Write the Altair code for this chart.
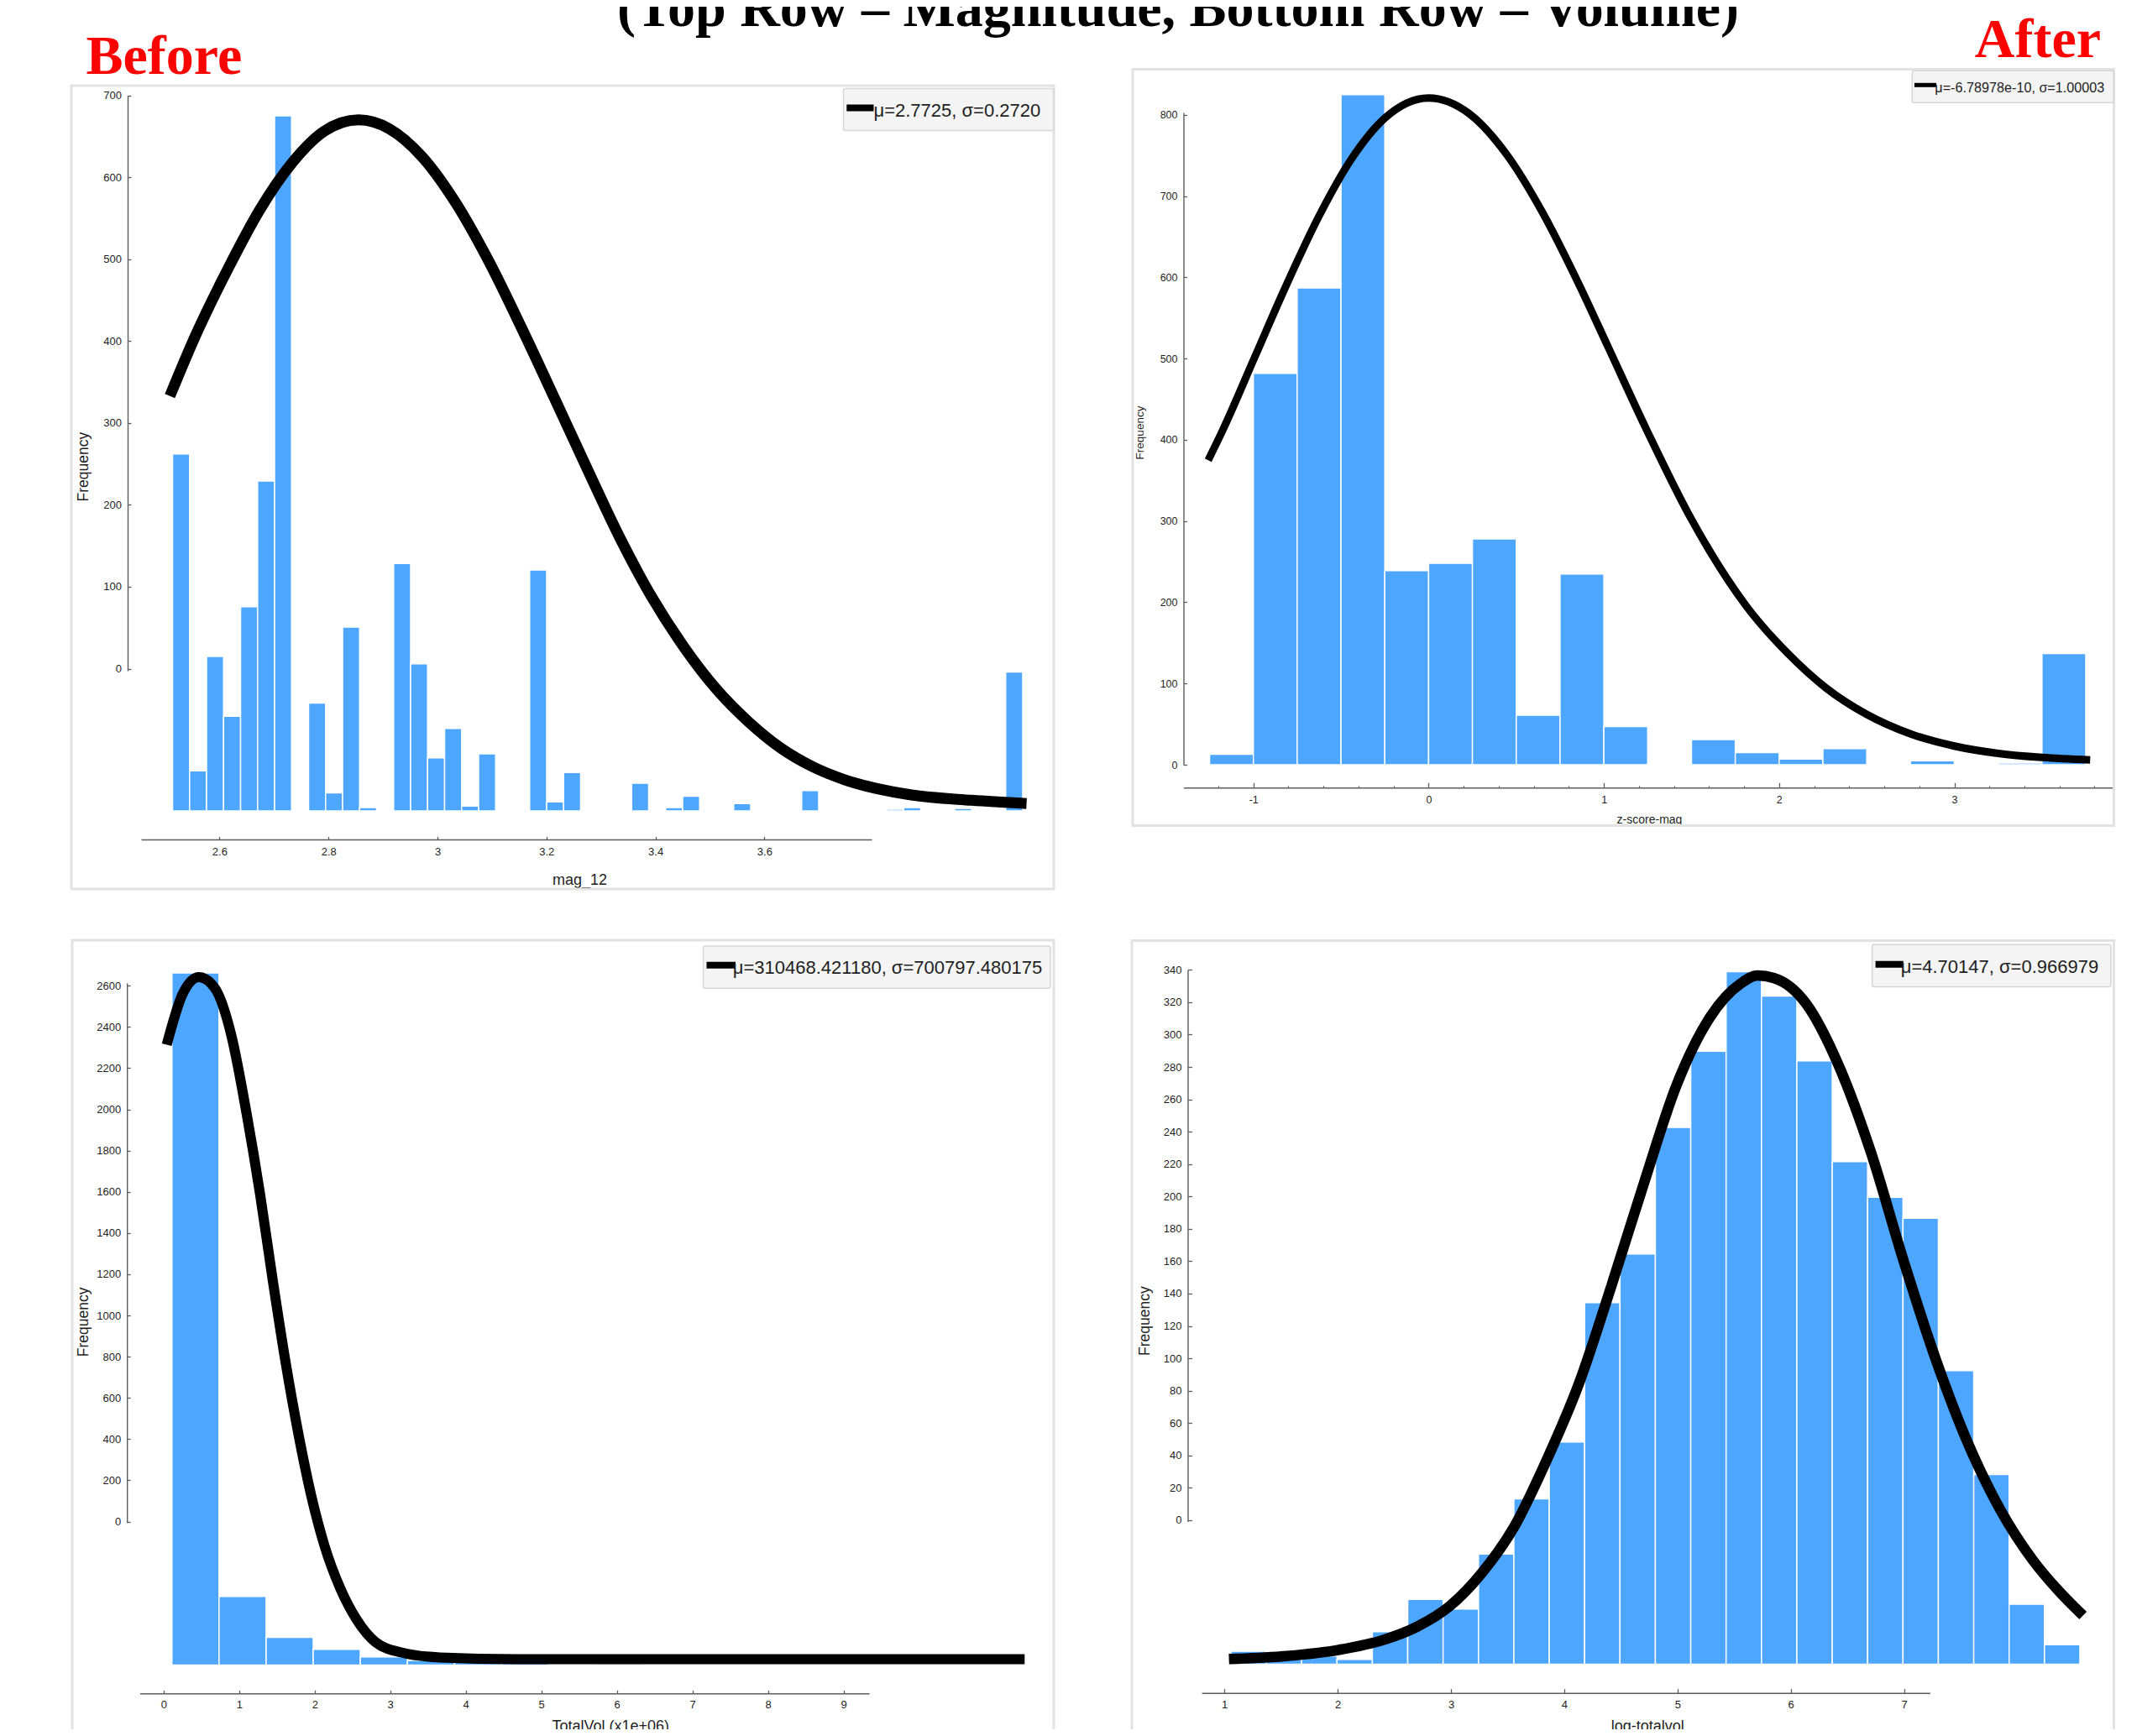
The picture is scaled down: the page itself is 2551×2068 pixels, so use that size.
import altair as alt
import pandas as pd

# ------------------------------------------------------------------
# Values
# ------------------------------------------------------------------
# Panel 1 - Before / magnitude (mag_12)
mag_bin_start = 2.5139
mag_bin_width = 0.0312
mag_counts = [437, 49, 189, 116, 250, 404, 851, 0, 132, 22,
              225, 4, 1, 303, 180, 65, 101, 6, 70, 0,
              0, 295, 11, 47, 0, 0, 1, 34, 0, 4,
              18, 0, 0, 9, 0, 0, 0, 25, 0, 0,
              0, 0, 2, 4, 0, 0, 3, 0, 0, 170]
mag_curve_x = [2.509, 2.556, 2.615, 2.674, 2.734, 2.792, 2.855, 2.912, 2.973, 3.034,
               3.095, 3.156, 3.217, 3.276, 3.335, 3.394, 3.453, 3.512, 3.571, 3.630,
               3.689, 3.748, 3.865, 3.980, 4.081]
mag_curve_y = [508, 582, 663, 736, 794, 832, 846, 835, 800, 744,
               672, 589, 502, 417, 334, 261, 200, 149, 109, 77,
               54, 38, 20, 13, 9]
mag_xticks = [2.6, 2.8, 3.0, 3.2, 3.4, 3.6]
mag_yticks = [0, 100, 200, 300, 400, 500, 600, 700]
mag_legend = "μ=2.7725, σ=0.2720"

# Panel 2 - After / magnitude z-score
z_bin_start = -1.25
z_bin_width = 0.25
z_counts = [13, 482, 587, 825, 239, 248, 278, 61, 235, 47,
            1, 31, 15, 7, 20, 0, 5, 0, 2, 137]
z_curve_x = [-1.258, -1.177, -0.992, -0.807, -0.622, -0.437, -0.251, 0.0, 0.23, 0.45,
             0.655, 0.859, 1.025, 1.247, 1.49, 1.814, 2.05, 2.265, 2.5, 2.75,
             3.0, 3.25, 3.5, 3.775]
z_curve_y = [375, 411, 502, 593, 677, 747, 796, 821, 802, 750,
             678, 591, 514, 411, 306, 195, 137, 95, 62, 38,
             23, 14, 9, 6]
z_xticks = [-1, 0, 1, 2, 3]
z_xminor = [-1.2, -0.8, -0.6, -0.4, -0.2, 0.2, 0.4, 0.6, 0.8, 1.2, 1.4, 1.6, 1.8,
            2.2, 2.4, 2.6, 2.8, 3.2, 3.4, 3.6, 3.8]
z_yticks = [0, 100, 200, 300, 400, 500, 600, 700, 800]
z_legend = "μ=-6.78978e-10, σ=1.00003"

# Panel 3 - Before / volume (TotalVol, x1e+06)
vol_bin_start = 0.1105
vol_bin_width = 0.6235
vol_counts = [3358, 333, 134, 76, 40, 22, 14, 11, 0, 7, 0, 0, 6, 0, 0, 0, 0, 0]
vol_curve_x = [0.042, 0.256, 0.468, 0.680, 0.894, 1.106, 1.276, 1.446, 1.616, 1.786,
               1.956, 2.126, 2.339, 2.552, 2.807, 3.148, 3.658, 4.678, 7.23, 11.398]
vol_curve_y = [3010, 3259, 3338, 3284, 3060, 2661, 2288, 1865, 1467, 1119,
               820, 584, 372, 223, 111, 61, 37, 29, 29, 29]
vol_xticks = [0, 1, 2, 3, 4, 5, 6, 7, 8, 9]
vol_yticks = [0, 200, 400, 600, 800, 1000, 1200, 1400, 1600, 1800, 2000, 2200, 2400, 2600]
vol_legend = "μ=310468.421180, σ=700797.480175"

# Panel 4 - After / log volume
lv_bin_start = 1.057
lv_bin_width = 0.3123
lv_counts = [8, 5, 5, 3, 20, 40, 34, 68, 102, 137,
             223, 253, 331, 378, 427, 412, 372, 310, 288, 275,
             181, 117, 37, 12]
lv_curve_x = [1.040, 1.555, 2.013, 2.414, 2.700, 2.987, 3.273, 3.559, 3.845, 4.131,
              4.417, 4.704, 4.990, 5.277, 5.563, 5.706, 5.849, 6.135, 6.422, 6.708,
              6.994, 7.280, 7.566, 7.852, 8.139, 8.368, 8.580]
lv_curve_y = [3.2, 5.1, 8.9, 15.2, 23.1, 35.7, 56.3, 84.8, 125.9, 173.3,
              233.4, 296.7, 356.8, 397.9, 420.0, 424.7, 423.2, 407.4, 369.4, 315.6,
              249.2, 188.0, 136.0, 95.0, 64.0, 45.0, 30.0]
lv_xticks = [1, 2, 3, 4, 5, 6, 7]
lv_yticks = [0, 20, 40, 60, 80, 100, 120, 140, 160, 180, 200, 220, 240, 260, 280, 300, 320, 340]
lv_legend = "μ=4.70147, σ=0.966979"

main_title = "(Top Row – Magnitude, Bottom Row – Volume)"
label_before = "Before"
label_after = "After"

# ------------------------------------------------------------------
# Layout / style (pixels inside the plot area)
# ------------------------------------------------------------------
W, H = 2535, 2052
SANS = "Liberation Sans"
SERIF = "Liberation Serif"
BLUE = "#4da6ff"
AXIS_COLOR = "#5c5c5c"
TEXT_COLOR = "#1e1e1e"

PANELS = [
    dict(counts=mag_counts, start=mag_bin_start, width=mag_bin_width,
         cx=mag_curve_x, cy=mag_curve_y, xticks=mag_xticks, yticks=mag_yticks, xminor=None,
         legend=mag_legend, xtitle="mag_12",
         xs_domain=[2.4561, 3.7966], xs_range=[160, 1030],
         by_domain=[0, 900], by_range=[958, 82.3],
         ay_domain=[-2.56, 700], ay_range=[791, 105.5],
         x_axis_y=992, y_axis_x=144,
         xtitle_xy=(682, 48.3), ytitle_xy=(-52.9, 547.6),
         label_fs=13, xtitle_fs=18, ytitle_fs=17.5, xpad=8, ypad=7.5,
         tick_x=3.5, tick_minor=0, tick_y=4, curve_w=13,
         frame=(77, 1247, 94, 1051),
         lbox=(996.5, 1246.7, 97.6, 147.6), lsym=(1000.3, 1032.5, 120.5, 8),
         ltext=(1032.5, 123.9, 22)),
    dict(counts=z_counts, start=z_bin_start, width=z_bin_width,
         cx=z_curve_x, cy=z_curve_y, xticks=z_xticks, yticks=z_yticks, xminor=z_xminor,
         legend=z_legend, xtitle="z-score-mag",
         xs_domain=[-1.3987, 3.9118], xs_range=[1401.5, 2509.8],
         by_domain=[0, 803.1], by_range=[903, 126],
         ay_domain=[0, 803.1], ay_range=[903, 126],
         x_axis_y=930.3, y_axis_x=1401.5,
         xtitle_xy=(1956, 37.7), ytitle_xy=(-52.5, 507),
         label_fs=12.5, xtitle_fs=14, ytitle_fs=13.5, xpad=8, ypad=7.5,
         tick_x=6, tick_minor=2.5, tick_y=4, curve_w=9,
         frame=(1341, 2509.5, 74.5, 975.5),
         lbox=(2269.3, 2509.3, 76.3, 114.3), lsym=(2272, 2298, 93.3, 5),
         ltext=(2296.3, 96.8, 16.2)),
    dict(counts=vol_counts, start=vol_bin_start, width=vol_bin_width,
         cx=vol_curve_x, cy=vol_curve_y, xticks=vol_xticks, yticks=vol_yticks, xminor=None,
         legend=vol_legend, xtitle="TotalVol (x1e+06)",
         xs_domain=[-0.3146, 9.3387], xs_range=[158.5, 1027],
         by_domain=[0, 3400], by_range=[1975.5, 1140.7],
         ay_domain=[-4.9, 2613], ay_range=[1805.8, 1163],
         x_axis_y=2009.3, y_axis_x=143.2,
         xtitle_xy=(718.7, 38.7), ytitle_xy=(-52.1, 1566.3),
         label_fs=13, xtitle_fs=18, ytitle_fs=17.5, xpad=7.5, ypad=7.5,
         tick_x=4, tick_minor=0, tick_y=4, curve_w=12,
         frame=(78, 1247, 1112, 2070),
         lbox=(829.6, 1242.9, 1119.1, 1169.2), lsym=(833.5, 868, 1141.7, 8),
         ltext=(864.8, 1145.2, 22)),
    dict(counts=lv_counts, start=lv_bin_start, width=lv_bin_width,
         cx=lv_curve_x, cy=lv_curve_y, xticks=lv_xticks, yticks=lv_yticks, xminor=None,
         legend=lv_legend, xtitle="log-totalvol",
         xs_domain=[0.7991, 7.229], xs_range=[1423.1, 2290.5],
         by_domain=[0, 440], by_range=[1974.5, 1124.5],
         ay_domain=[-0.8, 340], ay_range=[1804.5, 1147.3],
         x_axis_y=2008.7, y_axis_x=1406.5,
         xtitle_xy=(1953.7, 39.3), ytitle_xy=(-51.3, 1565.1),
         label_fs=13, xtitle_fs=18, ytitle_fs=17.5, xpad=7.5, ypad=7.5,
         tick_x=5, tick_minor=0, tick_y=5, curve_w=12.5,
         frame=(1340, 2509.5, 1112.5, 2070),
         lbox=(2221.7, 2505.9, 1117.3, 1167.4), lsym=(2225.6, 2258.8, 1140.8, 8),
         ltext=(2255.7, 1144.3, 22)),
]

ONE = pd.DataFrame({"k": [0]})


def scale(domain, rng):
    return alt.Scale(domain=domain, range=rng, nice=False, zero=False)


def bins_frame(start, width, counts):
    lo = [round(start + i * width, 4) for i in range(len(counts))]
    hi = [round(v + width, 4) for v in lo]
    return pd.DataFrame({"lo": lo, "hi": hi, "count": counts})


def panel_layers(p):
    xs = lambda: scale(p["xs_domain"], p["xs_range"])
    layers = []
    # frame
    fx, fx2, fy, fy2 = p["frame"]
    layers.append(alt.Chart(ONE).mark_rect(fillOpacity=0, stroke="#e2e2e2", strokeWidth=3).encode(
        x=alt.value(fx), x2=alt.value(fx2), y=alt.value(fy), y2=alt.value(fy2)))
    # bars
    layers.append(alt.Chart(bins_frame(p["start"], p["width"], p["counts"])).mark_rect(
        color=BLUE, stroke="white", strokeWidth=1.5).encode(
        x=alt.X("lo:Q", scale=xs(), axis=None),
        x2="hi:Q",
        y=alt.Y("count:Q", scale=scale(p["by_domain"], p["by_range"]), axis=None),
        y2=alt.datum(0)))
    # fitted curve
    layers.append(alt.Chart(pd.DataFrame({"cx": p["cx"], "cy": p["cy"]})).mark_line(
        color="black", strokeWidth=p["curve_w"], interpolate="monotone", strokeCap="butt").encode(
        x=alt.X("cx:Q", scale=xs(), axis=None),
        y=alt.Y("cy:Q", scale=scale(p["by_domain"], p["by_range"]), axis=None)))
    # axes (labels + domain lines)
    tx, ty = p["xtitle_xy"]
    yx, yy = p["ytitle_xy"]
    layers.append(alt.Chart(pd.DataFrame({"ax": [p["xticks"][0]], "ay": [p["yticks"][0]]})).mark_point(
        opacity=0).encode(
        x=alt.X("ax:Q", scale=xs(), axis=alt.Axis(
            orient="bottom", offset=p["x_axis_y"] - H, values=p["xticks"],
            labelExpr="'' + datum.value", ticks=False, tickSize=0, grid=False,
            domainColor=AXIS_COLOR, domainWidth=1.6,
            labelFont=SANS, labelFontSize=p["label_fs"], labelColor=TEXT_COLOR,
            labelPadding=p["xpad"], labelFlush=False, labelOverlap=False,
            title=p["xtitle"], titleX=tx, titleY=ty, titleFont=SANS,
            titleFontSize=p["xtitle_fs"], titleFontWeight="normal", titleColor=TEXT_COLOR,
            titleAlign="center", titleBaseline="middle", titleAngle=0)),
        y=alt.Y("ay:Q", scale=scale(p["ay_domain"], p["ay_range"]), axis=alt.Axis(
            orient="left", offset=-p["y_axis_x"], values=p["yticks"],
            labelExpr="'' + datum.value", ticks=False, tickSize=0, grid=False,
            domainColor=AXIS_COLOR, domainWidth=1.4,
            labelFont=SANS, labelFontSize=p["label_fs"], labelColor=TEXT_COLOR,
            labelPadding=p["ypad"], labelFlush=False, labelOverlap=False,
            title="Frequency", titleX=yx, titleY=yy, titleFont=SANS,
            titleFontSize=p["ytitle_fs"], titleFontWeight="normal", titleColor=TEXT_COLOR,
            titleAlign="center", titleBaseline="middle", titleAngle=270))))
    # inward ticks (top / right oriented axes placed on the axis lines)
    layers.append(alt.Chart(pd.DataFrame({"tx": [p["xticks"][0]], "ty": [p["yticks"][0]]})).mark_point(
        opacity=0).encode(
        x=alt.X("tx:Q", scale=xs(), axis=alt.Axis(
            orient="top", offset=-p["x_axis_y"], values=p["xticks"], labels=False,
            domain=False, grid=False, ticks=True, tickSize=p["tick_x"], tickWidth=1.3,
            tickColor=AXIS_COLOR, title=None)),
        y=alt.Y("ty:Q", scale=scale(p["ay_domain"], p["ay_range"]), axis=alt.Axis(
            orient="right", offset=p["y_axis_x"] - W, values=p["yticks"], labels=False,
            domain=False, grid=False, ticks=True, tickSize=p["tick_y"], tickWidth=1.3,
            tickColor=AXIS_COLOR, title=None))))
    if p["xminor"]:
        layers.append(alt.Chart(pd.DataFrame({"mx": [p["xminor"][0]]})).mark_point(opacity=0).encode(
            x=alt.X("mx:Q", scale=xs(), axis=alt.Axis(
                orient="top", offset=-p["x_axis_y"], values=p["xminor"], labels=False,
                domain=False, grid=False, ticks=True, tickSize=p["tick_minor"], tickWidth=1.1,
                tickColor=AXIS_COLOR, title=None))))
    # legend box
    bx, bx2, by, by2 = p["lbox"]
    layers.append(alt.Chart(ONE).mark_rect(fill="#f4f4f4", stroke="#d6d6d6", strokeWidth=1.5,
                                           cornerRadius=2).encode(
        x=alt.value(bx), x2=alt.value(bx2), y=alt.value(by), y2=alt.value(by2)))
    sx, sx2, sy, sw = p["lsym"]
    layers.append(alt.Chart(ONE).mark_rule(color="black", strokeWidth=sw).encode(
        x=alt.value(sx), x2=alt.value(sx2), y=alt.value(sy)))
    lx, ly, lfs = p["ltext"]
    layers.append(alt.Chart(pd.DataFrame({"t": [p["legend"]]})).mark_text(
        align="left", baseline="middle", font=SANS, fontSize=lfs, color=TEXT_COLOR).encode(
        x=alt.value(lx), y=alt.value(ly), text="t:N"))
    return layers


layers = []
for p in PANELS:
    layers.extend(panel_layers(p))

# headings
layers.append(alt.Chart(pd.DataFrame({"t": [main_title]})).mark_text(
    align="center", baseline="alphabetic", font=SERIF, fontWeight="bold", fontSize=66,
    color="black").encode(x=alt.value(1395), y=alt.value(23), text="t:N"))
layers.append(alt.Chart(pd.DataFrame({"t": [label_before]})).mark_text(
    align="left", baseline="alphabetic", font=SERIF, fontWeight="bold", fontSize=66,
    color="#ff0000").encode(x=alt.value(94.5), y=alt.value(80.3), text="t:N"))
layers.append(alt.Chart(pd.DataFrame({"t": [label_after]})).mark_text(
    align="right", baseline="alphabetic", font=SERIF, fontWeight="bold", fontSize=66,
    color="#ff0000").encode(x=alt.value(2494), y=alt.value(60.3), text="t:N"))

chart = alt.layer(*layers).resolve_scale(x="independent", y="independent").properties(
    width=W, height=H, padding=0, autosize=alt.AutoSizeParams(type="none"),
    background="white"
).configure(font=SANS).configure_view(stroke="transparent", strokeWidth=0)

chart.save("out.html", embed_options={"renderer": "svg", "actions": False})
